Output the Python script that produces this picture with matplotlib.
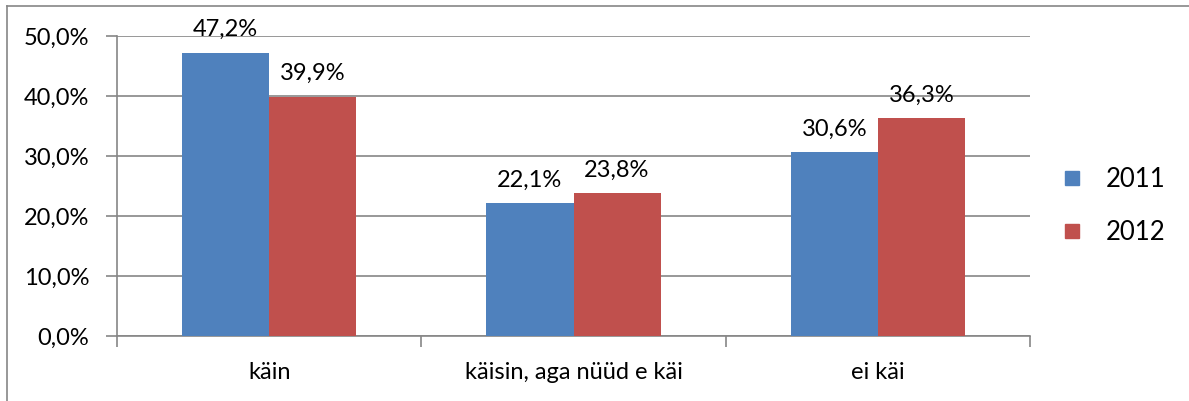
import matplotlib
matplotlib.use("Agg")
import matplotlib.pyplot as plt
from matplotlib.lines import Line2D
import numpy as np

categories = ["käin", "käisin, aga nüüd e käi", "ei käi"]
series_names = ["2011", "2012"]
values_2011 = [47.2, 22.1, 30.6]
values_2012 = [39.9, 23.8, 36.3]
yticks = [0, 10, 20, 30, 40, 50]

blue = "#4F81BD"
red = "#C0504D"
grid_c = "#868686"

plt.rcParams['font.family'] = ['Lato', 'DejaVu Sans']

W, H = 1189, 401
fig = plt.figure(figsize=(W / 100, H / 100), dpi=100)
ax = fig.add_axes([117 / W, 1 - 336 / H, (1030 - 117) / W, (336 - 36) / H])

x = np.arange(len(categories))
bw = 0.286
b1 = ax.bar(x - bw / 2, values_2011, bw, color=blue, label=series_names[0], zorder=3)
b2 = ax.bar(x + bw / 2, values_2012, bw, color=red, label=series_names[1], zorder=3)

fs = 17
for bars, vals in ((b1, values_2011), (b2, values_2012)):
    for rect, v in zip(bars, vals):
        ax.annotate(f"{v:.1f}%".replace(".", ","),
                    (rect.get_x() + rect.get_width() / 2, v),
                    xytext=(0, 9), textcoords="offset points",
                    ha="center", va="bottom", fontsize=fs, color="black", zorder=4)

ax.set_xlim(-0.5, len(categories) - 0.5)
ax.set_ylim(0, 50)
ax.set_yticks(yticks)
ax.set_yticklabels([f"{t:.1f}%".replace(".", ",") for t in yticks], fontsize=fs)
ax.yaxis.grid(True, color=grid_c, linewidth=1.2, zorder=0)
ax.set_axisbelow(True)

ax.set_xticks(x)
ax.set_xticklabels(categories, fontsize=fs)
ax.tick_params(axis="x", length=0, pad=19)
ax.set_xticks(np.arange(len(categories) + 1) - 0.5, minor=True)
ax.tick_params(axis="x", which="minor", length=8, color=grid_c, width=1.2)
ax.tick_params(axis="y", length=8, color=grid_c, width=1.2, pad=12)

for s in ("top", "right"):
    ax.spines[s].set_visible(False)
for s in ("left", "bottom"):
    ax.spines[s].set_color(grid_c)
    ax.spines[s].set_linewidth(1.2)

handles = [Line2D([], [], marker="s", linestyle="none", markersize=10, color=blue),
           Line2D([], [], marker="s", linestyle="none", markersize=10, color=red)]
fig.legend(handles, series_names, loc="center left", bbox_to_anchor=(1062 / W, 1 - 206 / H),
           frameon=False, fontsize=18.5, handlelength=0.8, handletextpad=0.9,
           labelspacing=1.1, borderaxespad=0, borderpad=0)

# figure border (left & top)
fig.add_artist(Line2D([7 / W, 7 / W], [0, 1 - 6 / H], color=grid_c, linewidth=1.2, transform=fig.transFigure))
fig.add_artist(Line2D([7 / W, 1], [1 - 6 / H, 1 - 6 / H], color=grid_c, linewidth=1.2, transform=fig.transFigure))

fig.savefig("out.png", dpi=100, facecolor="white")
